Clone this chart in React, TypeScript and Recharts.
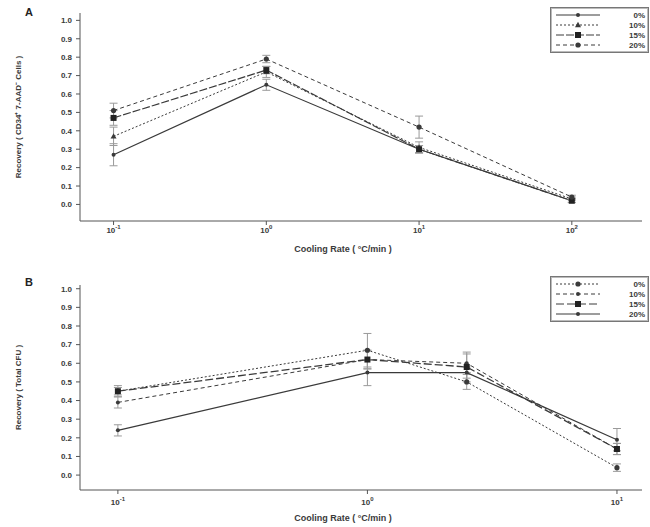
import React from 'react';
import { LineChart, Line, XAxis, YAxis, ErrorBar } from 'recharts';

// cooling rates (°C/min)
const RATES_A = [0.1, 1, 10, 100];
const RATES_B = [0.1, 1, 2.5, 10];

const SERIES = ['0%', '10%', '15%', '20%'];

// panel A: recovery of CD34+ 7-AAD- cells
const A_0 = [0.27, 0.65, 0.3, 0.02];
const A_10 = [0.37, 0.72, 0.31, 0.03];
const A_15 = [0.47, 0.73, 0.3, 0.02];
const A_20 = [0.51, 0.79, 0.42, 0.04];
const A_ERR_0 = [0.06, 0.03, 0.02, 0.01];
const A_ERR_10 = [0.05, 0.03, 0.03, 0.01];
const A_ERR_15 = [0.04, 0.02, 0.02, 0.01];
const A_ERR_20 = [0.04, 0.02, 0.06, 0.01];

// panel B: recovery of total CFU
const B_0 = [0.45, 0.67, 0.5, 0.04];
const B_10 = [0.39, 0.62, 0.6, 0.14];
const B_15 = [0.45, 0.62, 0.58, 0.14];
const B_20 = [0.24, 0.55, 0.55, 0.19];
const B_ERR_0 = [0.03, 0.09, 0.04, 0.02];
const B_ERR_10 = [0.03, 0.05, 0.05, 0.03];
const B_ERR_15 = [0.02, 0.05, 0.08, 0.03];
const B_ERR_20 = [0.03, 0.07, 0.03, 0.06];

const Y_TICKS = [0, 0.1, 0.2, 0.3, 0.4, 0.5, 0.6, 0.7, 0.8, 0.9, 1.0];

const buildRows = (rates: number[], vals: number[][], errs: number[][]) =>
  rates.map((r, i) => {
    const row: any = { rate: r };
    SERIES.forEach((s, k) => {
      row[`s${k}`] = vals[k][i];
      row[`e${k}`] = errs[k][i];
    });
    return row;
  });

const dataA = buildRows(RATES_A, [A_0, A_10, A_15, A_20], [A_ERR_0, A_ERR_10, A_ERR_15, A_ERR_20]);
const dataB = buildRows(RATES_B, [B_0, B_10, B_15, B_20], [B_ERR_0, B_ERR_10, B_ERR_15, B_ERR_20]);

const INK = '#3a3a3a';
const FONT = 'Liberation Sans, Arial, sans-serif';

type Style = { dash?: string; marker: 'dot' | 'tri' | 'sq' | 'circ'; width: number };

const STYLES_A: Style[] = [
  { marker: 'dot', width: 1.2 },
  { dash: '2 2', marker: 'tri', width: 1 },
  { dash: '8 2', marker: 'sq', width: 1.2 },
  { dash: '4 3', marker: 'circ', width: 1 },
];
const STYLES_B: Style[] = [
  { dash: '2 2', marker: 'circ', width: 1 },
  { dash: '4 3', marker: 'dot', width: 1 },
  { dash: '8 3', marker: 'sq', width: 1.3 },
  { marker: 'dot', width: 1.2 },
];

const Marker = ({ cx, cy, kind }: { cx: number; cy: number; kind: Style['marker'] }) => {
  if (cx == null || cy == null) return null;
  if (kind === 'tri')
    return <path d={`M${cx},${cy - 3.2} L${cx + 3},${cy + 2.2} L${cx - 3},${cy + 2.2} Z`} fill={INK} />;
  if (kind === 'sq') return <rect x={cx - 3} y={cy - 3} width={6} height={6} fill="#222" />;
  if (kind === 'circ') return <circle cx={cx} cy={cy} r={2.6} fill={INK} />;
  return <circle cx={cx} cy={cy} r={2} fill={INK} />;
};

const makeLogTick = (shift: number) => ({ x, y, payload }: any) => {
  const exp = Math.round(Math.log10(payload.value));
  return (
    <text x={x} y={y + shift} textAnchor="middle" fontFamily={FONT} fontSize={8} fontWeight="bold" fill={INK}>
      10
      <tspan fontSize={6} dy={-4}>{exp}</tspan>
    </text>
  );
};

const LegendBox = ({ styles, top }: { styles: Style[]; top: number }) => (
  <div
    style={{
      position: 'absolute',
      left: 550,
      top,
      border: '1px solid #777',
      boxShadow: 'inset 0 0 0 1px #bbb',
      padding: '2px 3px',
      background: '#fff',
      width: 91,
    }}
  >
    {SERIES.map((s, i) => (
      <div key={s} style={{ display: 'flex', alignItems: 'center', height: 10 }}>
        <svg width={50} height={10}>
          <line x1={2} y1={5} x2={46} y2={5} stroke={INK} strokeWidth={1} strokeDasharray={styles[i].dash} />
          <Marker cx={24} cy={5} kind={styles[i].marker} />
        </svg>
        <span
          style={{
            flex: 1,
            textAlign: 'right',
            fontFamily: FONT,
            fontSize: 8,
            fontWeight: 'bold',
            color: INK,
          }}
        >
          {s}
        </span>
      </div>
    ))}
  </div>
);

const Panel = ({ data, styles, height, top, plotH, tickShift, labelOffset, xDomain, xTicks, yDomain, yLabel }: any) => {
  const Tick = makeLogTick(tickShift);
  return (
    <LineChart width={650} height={height} data={data} margin={{ top, right: 8, left: 0, bottom: 0 }}>
      <XAxis
        dataKey="rate"
        type="number"
        scale="log"
        domain={xDomain}
        ticks={xTicks}
        allowDataOverflow
        tick={<Tick />}
        tickSize={4}
        stroke="#555"
        height={height - top - plotH}
        label={{
          value: 'Cooling Rate ( °C/min )',
          position: 'insideBottom',
          offset: labelOffset,
          dx: -18,
          style: { fontFamily: FONT, fontSize: 9, fontWeight: 'bold', fill: INK },
        }}
      />
      <YAxis
        type="number"
        domain={yDomain}
        ticks={Y_TICKS}
        allowDataOverflow
        width={80}
        tickSize={4}
        tickMargin={4}
        stroke="#555"
        tickFormatter={(v: number) => v.toFixed(1)}
        tick={{ fontFamily: FONT, fontSize: 8, fontWeight: 'bold', fill: INK }}
        label={{
          value: yLabel,
          angle: -90,
          position: 'insideLeft',
          offset: 18,
          style: { textAnchor: 'middle', fontFamily: FONT, fontSize: 8, fontWeight: 'bold', fill: INK },
        }}
      />
      {SERIES.map((s, k) => (
        <Line
          key={s}
          name={s}
          dataKey={`s${k}`}
          stroke={INK}
          strokeWidth={styles[k].width}
          strokeDasharray={styles[k].dash}
          isAnimationActive={false}
          dot={(p: any) => <Marker key={`${s}-${p.index}`} cx={p.cx} cy={p.cy} kind={styles[k].marker} />}
          activeDot={false}
        >
          <ErrorBar dataKey={`e${k}`} width={4} stroke="#9a9a9a" strokeWidth={1} direction="y" />
        </Line>
      ))}
    </LineChart>
  );
};

const Letter = ({ top, text }: { top: number; text: string }) => (
  <div
    style={{
      position: 'absolute',
      left: 25,
      top,
      fontFamily: FONT,
      fontWeight: 'bold',
      fontSize: 11,
      color: '#222',
    }}
  >
    {text}
  </div>
);

export default function App() {
  return (
    <div style={{ position: 'absolute', left: 0, top: 0, width: 650, height: 527, background: '#fff' }}>
      <div style={{ position: 'absolute', left: 0, top: 0 }}>
        <Panel
          data={dataA}
          styles={STYLES_A}
          height={260}
          top={13}
          plotH={208}
          tickShift={6}
          labelOffset={8}
          xDomain={[0.0603, 288]}
          xTicks={RATES_A}
          yDomain={[-0.09, 1.04]}
          yLabel="Recovery ( CD34⁺ 7-AAD⁻ Cells )"
        />
      </div>
      <div style={{ position: 'absolute', left: 0, top: 260 }}>
        <Panel
          data={dataB}
          styles={STYLES_B}
          height={267}
          top={25}
          plotH={205}
          tickShift={9}
          labelOffset={6}
          xDomain={[0.0705, 12.6]}
          xTicks={[0.1, 1, 10]}
          yDomain={[-0.08, 1.02]}
          yLabel="Recovery ( Total CFU )"
        />
      </div>
      <LegendBox styles={STYLES_A} top={7} />
      <LegendBox styles={STYLES_B} top={276} />
      <Letter top={6} text="A" />
      <Letter top={276} text="B" />
    </div>
  );
}
